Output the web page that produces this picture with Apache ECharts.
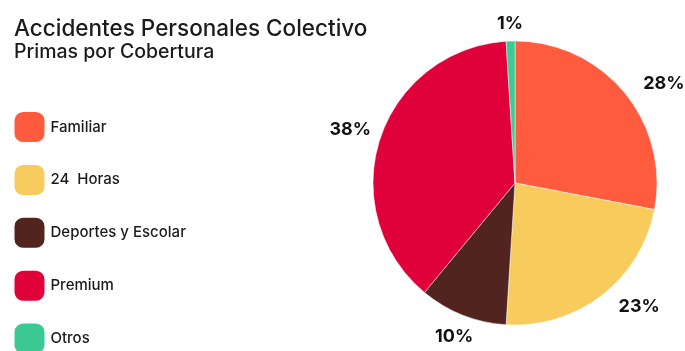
<!DOCTYPE html>
<html>
<head>
<meta charset="utf-8">
<script src="https://cdn.jsdelivr.net/npm/echarts@6/dist/echarts.min.js"></script>
<style>
  html, body { margin: 0; padding: 0; background: #fff; }
  #chart { width: 685px; height: 351px; }
</style>
</head>
<body>
<div id="chart"></div>
<script>
// Coverage categories and their share of premiums (percent)
const categories = ['Familiar', '24  Horas', 'Deportes y Escolar', 'Premium', 'Otros'];
const shares = [28, 23, 10, 38, 1];
const colors = ['#FF5B3F', '#F7CC5D', '#512420', '#E0003A', '#3CC993'];

const FONT = 'Inter, "Noto Sans", sans-serif';
const PIE_CENTER = [515, 183];
const PIE_RADIUS = 142;
const START_ANGLE = 90;

// Rounded-square legend marker
const roundSquare = 'path://M9,0H21C26,0 30,4 30,9V21C30,26 26,30 21,30H9C4,30 0,26 0,21V9C0,4 4,0 9,0Z';

// Mid-angle direction of each slice (clockwise from START_ANGLE)
const total = shares.reduce((a, b) => a + b, 0);
const midDirs = [];
let acc = 0;
shares.forEach(v => {
  const mid = (acc + v / 2) / total * 360;
  const rad = (START_ANGLE - mid) * Math.PI / 180;
  midDirs.push([Math.cos(rad), -Math.sin(rad)]);
  acc += v;
});

const chart = echarts.init(document.getElementById('chart'), null, { renderer: 'canvas' });

chart.setOption({
  animation: false,
  color: colors,
  title: {
    text: 'Accidentes Personales Colectivo',
    subtext: 'Primas por Cobertura',
    left: 9,
    top: 13,
    itemGap: 1,
    textStyle: { fontFamily: FONT, fontSize: 22.5, fontWeight: 500, color: '#1b1b1b' },
    subtextStyle: { fontFamily: FONT, fontSize: 19.5, fontWeight: 500, color: '#1b1b1b' }
  },
  legend: {
    orient: 'vertical',
    left: 12.5,
    top: 110,
    height: 400,
    padding: 0,
    itemWidth: 32,
    itemHeight: 32,
    itemGap: 18.9,
    icon: roundSquare,
    data: categories,
    textStyle: { fontFamily: FONT, fontSize: 15, fontWeight: 500, color: '#1b1b1b' }
  },
  series: [{
    type: 'pie',
    center: PIE_CENTER,
    radius: PIE_RADIUS,
    startAngle: START_ANGLE,
    clockwise: true,
    avoidLabelOverlap: false,
    itemStyle: { borderColor: '#ffffff', borderWidth: 0.5 },
    label: {
      show: true,
      position: 'outside',
      formatter: '{c}%',
      fontFamily: FONT,
      fontSize: 18,
      fontWeight: 700,
      color: '#111',
      distanceToLabelLine: 8
    },
    labelLine: { show: false, length: 14, length2: 0 },
    // Labels on the left half are centred on the slice's mid-angle just beyond the rim;
    // the right half keeps the default outside placement.
    labelLayout: function (params) {
      const [dx, dy] = midDirs[params.dataIndex];
      if (dx >= 0) return {};
      const w = params.labelRect.width;
      const dist = PIE_RADIUS + 9 + (w / 2) * Math.abs(dx) + 8 * Math.abs(dy);
      return {
        x: PIE_CENTER[0] + dx * dist,
        y: PIE_CENTER[1] + dy * dist,
        align: 'center',
        verticalAlign: 'middle'
      };
    },
    data: categories.map((name, i) => ({ name, value: shares[i] }))
  }]
});
</script>
</body>
</html>
